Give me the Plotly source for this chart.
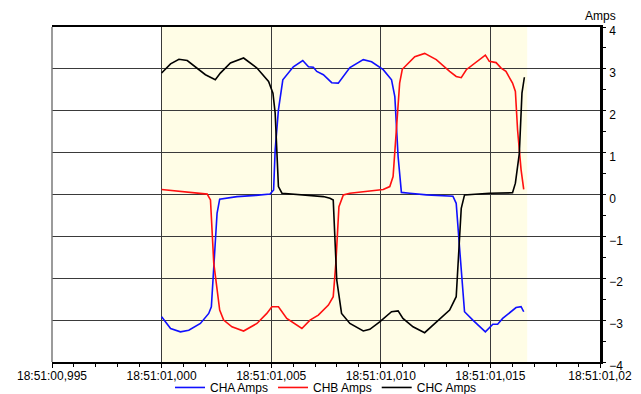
import plotly.graph_objects as go

# time in ms relative to 18:51:01,000
t_cha = [0.0, 0.41, 0.86, 1.24, 1.77, 2.15, 2.27, 2.38, 2.53, 2.65, 3.44, 4.3, 4.95, 5.11, 5.18, 5.33,
         5.53, 6.01, 6.44, 6.70, 6.92, 7.08, 7.38, 7.76, 8.06, 8.59, 9.2, 9.58, 10.11, 10.49, 10.64,
         10.79, 10.94, 11.32, 12.08, 13.29, 13.44, 13.59, 13.82, 14.2, 14.77, 15.11, 15.33, 15.56,
         16.17, 16.4, 16.52]
v_cha = [-2.92, -3.20, -3.28, -3.24, -3.08, -2.84, -2.68, -1.64, -0.45, -0.11, -0.05, -0.02, 0.01, 0.11,
         1.06, 2.02, 2.74, 3.05, 3.20, 3.05, 3.04, 2.94, 2.86, 2.67, 2.66, 3.03, 3.22, 3.17, 2.98,
         2.74, 2.34, 0.90, 0.05, 0.03, -0.01, -0.04, -0.21, -1.25, -2.80, -3.0, -3.28, -3.10, -3.10,
         -2.96, -2.70, -2.68, -2.80]

t_chb = [0.0, 2.08, 2.23, 2.38, 2.65, 2.83, 3.21, 3.74, 4.35, 4.80, 5.03, 5.33, 5.71, 6.40, 6.77,
         7.15, 7.61, 7.83, 7.95, 8.09, 8.29, 8.59, 10.11, 10.41, 10.56, 10.71, 10.86, 10.98, 11.55,
         12.0, 12.53, 13.14, 13.44, 13.67, 13.9, 14.77, 14.95, 15.26, 15.49, 15.71, 16.01, 16.14,
         16.24, 16.4, 16.52]
v_chb = [0.12, 0.01, -0.13, -1.64, -2.76, -3.0, -3.16, -3.26, -3.08, -2.84, -2.68, -2.68, -2.96,
         -3.20, -3.0, -2.88, -2.64, -2.44, -1.64, -0.29, -0.01, 0.03, 0.12, 0.19, 0.43, 1.54, 2.66,
         2.99, 3.29, 3.37, 3.22, 2.94, 2.82, 2.79, 2.98, 3.33, 3.18, 3.15, 3.02, 2.94, 2.66, 2.46,
         1.54, 0.59, 0.12]

t_chc = [0.0, 0.41, 0.79, 1.17, 2.0, 2.45, 2.68, 3.14, 3.74, 4.35, 4.88, 5.08, 5.18, 5.33, 5.49,
         7.38, 7.68, 7.83, 7.99, 8.21, 8.59, 9.2, 9.5, 9.95, 10.49, 10.79, 11.01, 11.47, 12.0, 12.45,
         13.14, 13.44, 13.67, 13.82, 14.95, 16.01, 16.14, 16.32, 16.44, 16.55]
v_chc = [2.90, 3.12, 3.23, 3.20, 2.86, 2.74, 2.90, 3.14, 3.26, 3.02, 2.70, 2.42, 1.95, 0.19, 0.03,
         -0.05, -0.09, -0.13, -2.04, -2.84, -3.08, -3.26, -3.22, -3.04, -2.80, -2.78, -2.96, -3.16,
         -3.30, -3.08, -2.76, -2.44, -0.33, -0.01, 0.03, 0.04, 0.27, 0.98, 2.42, 2.80]

x_tickvals = [-5, 0, 5, 10, 15, 20]
x_ticktext = ["18:51:00,995", "18:51:01,000", "18:51:01,005", "18:51:01,010", "18:51:01,015", "18:51:01,02"]
record_start = 0.0
record_end = 16.68

FONT = "Liberation Sans, Arial, sans-serif"
GRID = "#3a3a3a"

fig = go.Figure()
fig.add_shape(type="rect", xref="x", yref="y", x0=record_start, x1=record_end, y0=-4, y1=4,
              fillcolor="#FFFDE6", line=dict(width=0), layer="below")
fig.add_shape(type="line", xref="paper", yref="paper", x0=0, x1=0, y0=0, y1=1,
              line=dict(color="#7a7a7a", width=1.5))

for name, t, v, c in [("CHA Amps", t_cha, v_cha, "#1010FF"),
                      ("CHB Amps", t_chb, v_chb, "#FF1010"),
                      ("CHC Amps", t_chc, v_chc, "#000000")]:
    fig.add_trace(go.Scatter(x=t, y=v, mode="lines", name=name,
                             line=dict(color=c, width=1.6)))

# small trigger marker at record start
fig.add_trace(go.Scatter(x=[record_start], y=[4.08], mode="markers", showlegend=False,
                         marker=dict(symbol="triangle-down", size=5, color="#000"),
                         cliponaxis=False, hoverinfo="skip"))

fig.update_layout(
    width=641, height=394,
    margin=dict(l=52, r=41, t=27, b=32, autoexpand=False),
    paper_bgcolor="white", plot_bgcolor="white",
    font=dict(family=FONT, size=12, color="#000"),
    showlegend=True,
    legend=dict(orientation="h", x=0.5, xanchor="center", y=-0.076, yanchor="middle",
                font=dict(size=12), itemwidth=30, tracegroupgap=0,
                bgcolor="rgba(0,0,0,0)"),
    xaxis=dict(range=[-5, 20], tickmode="array", tickvals=x_tickvals, ticktext=x_ticktext,
               showgrid=True, gridcolor=GRID, gridwidth=1, zeroline=False,
               showline=True, linecolor="#000", linewidth=1.5, mirror=True,
               ticks="outside", ticklen=4, tickcolor="#000", ticklabelstandoff=-2,
               minor=dict(tickmode="linear", tick0=0, dtick=1, ticks="outside", ticklen=3,
                          tickcolor="#000", showgrid=False),
               tickfont=dict(size=12), fixedrange=True),
    yaxis=dict(range=[-4, 4], side="right", tickmode="linear", tick0=0, dtick=1,
               showgrid=True, gridcolor=GRID, gridwidth=1, zeroline=False,
               showline=True, linecolor="#000", linewidth=2.5,
               ticks="outside", ticklen=3, tickcolor="#000", ticklabelstandoff=1,
               ticklabelshift=4,
               minor=dict(dtick=0.5, ticks="outside", ticklen=3, tickcolor="#000", showgrid=False),
               tickfont=dict(size=12), fixedrange=True),
    annotations=[dict(text="Amps", xref="paper", yref="paper", x=1.0, y=1.0, yshift=11,
                      xanchor="center", yanchor="middle", showarrow=False,
                      font=dict(size=12))],
)

fig.write_html("out.html")
